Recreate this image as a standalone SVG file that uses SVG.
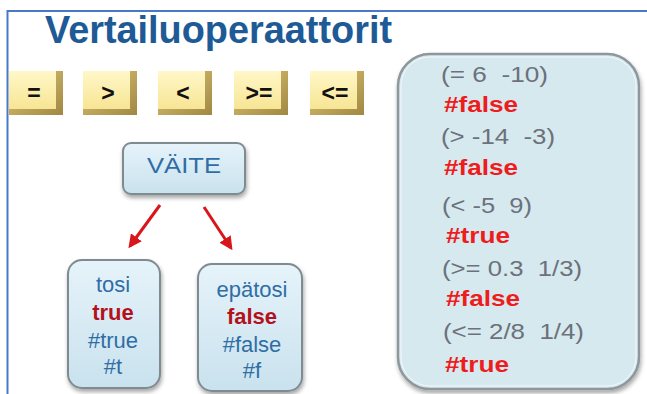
<svg xmlns="http://www.w3.org/2000/svg" width="647" height="394" viewBox="0 0 647 394">
<defs>
<linearGradient id="keyFace" x1="0" y1="0" x2="0" y2="1">
<stop offset="0" stop-color="#FFF7C8"/>
<stop offset="1" stop-color="#F7E594"/>
</linearGradient>
<linearGradient id="keyShade" x1="0" y1="0" x2="1" y2="1">
<stop offset="0" stop-color="#E0C676"/>
<stop offset="1" stop-color="#A08844"/>
</linearGradient>
<linearGradient id="nodeFill" x1="0" y1="0" x2="0" y2="1">
<stop offset="0" stop-color="#E6F3FA"/>
<stop offset="1" stop-color="#C9E2EE"/>
</linearGradient>
<filter id="sh" x="-20%" y="-20%" width="140%" height="140%">
<feDropShadow dx="1" dy="3" stdDeviation="2" flood-color="#000" flood-opacity="0.35"/>
</filter>
<marker id="ah" viewBox="0 0 10 10" refX="8" refY="5" markerWidth="4.5" markerHeight="4.5" orient="auto">
<path d="M0,0 L10,5 L0,10 Z" fill="#D8161C"/>
</marker>
<style>
.key text{font-family:"Liberation Sans",Arial,sans-serif;font-weight:bold;font-size:23px;fill:#111;text-anchor:middle}
.node rect{fill:url(#nodeFill);stroke:#7E8C92;stroke-width:2}
.nt{font-family:"Liberation Sans",Arial,sans-serif;font-size:22px;fill:#2F6EA5;text-anchor:middle}
.nr{font-family:"Liberation Sans",Arial,sans-serif;font-size:22px;font-weight:bold;fill:#B3121C;text-anchor:middle}
.pg{font-family:"Liberation Sans",Arial,sans-serif;font-size:22px;fill:#6C717B}
.pr{font-family:"Liberation Sans",Arial,sans-serif;font-size:22px;font-weight:bold;fill:#EE1C1C}
.conn line{stroke:#D8161C;stroke-width:3;marker-end:url(#ah)}
</style>
</defs>
<rect x="0" y="0" width="647" height="394" fill="#FFFFFF"/>
<path d="M7.5,394 L7.5,11 L647,11" fill="none" stroke="#4A78C8" stroke-width="2"/>
<text x="45" y="43" font-family="'Liberation Sans',Arial,sans-serif" font-weight="bold" font-size="38" fill="#1E5A96" textLength="347" lengthAdjust="spacingAndGlyphs">Vertailuoperaattorit</text>

<g id="key-eq" class="key">
<rect x="9" y="71" width="54" height="44" fill="url(#keyShade)"/>
<rect x="9" y="71" width="47" height="38" fill="url(#keyFace)"/>
<text x="34" y="101">=</text>
</g>
<g id="key-gt" class="key">
<rect x="83" y="71" width="54" height="44" fill="url(#keyShade)"/>
<rect x="83" y="71" width="47" height="38" fill="url(#keyFace)"/>
<text x="108" y="101">&gt;</text>
</g>
<g id="key-lt" class="key">
<rect x="158" y="71" width="54" height="44" fill="url(#keyShade)"/>
<rect x="158" y="71" width="47" height="38" fill="url(#keyFace)"/>
<text x="183" y="101">&lt;</text>
</g>
<g id="key-ge" class="key">
<rect x="234" y="71" width="54" height="44" fill="url(#keyShade)"/>
<rect x="234" y="71" width="47" height="38" fill="url(#keyFace)"/>
<text x="259" y="101">&gt;=</text>
</g>
<g id="key-le" class="key">
<rect x="310" y="71" width="54" height="44" fill="url(#keyShade)"/>
<rect x="310" y="71" width="47" height="38" fill="url(#keyFace)"/>
<text x="335" y="101">&lt;=</text>
</g>

<g id="panel">
<rect x="398" y="54" width="241" height="335" rx="32" fill="#D6E9EF" stroke="#8E979B" stroke-width="2.5" filter="url(#sh)"/>
<rect x="401" y="57" width="235" height="329" rx="29" fill="none" stroke="#F2F8FA" stroke-width="1"/>
<text class="pg" x="441" y="82" textLength="107" lengthAdjust="spacingAndGlyphs" xml:space="preserve">(= 6  -10)</text>
<text class="pr" x="444" y="112" textLength="74" lengthAdjust="spacingAndGlyphs">#false</text>
<text class="pg" x="441" y="144" textLength="114" lengthAdjust="spacingAndGlyphs" xml:space="preserve">(&gt; -14  -3)</text>
<text class="pr" x="444" y="175" textLength="74" lengthAdjust="spacingAndGlyphs">#false</text>
<text class="pg" x="442" y="213" textLength="90" lengthAdjust="spacingAndGlyphs" xml:space="preserve">(&lt; -5  9)</text>
<text class="pr" x="446" y="243" textLength="64" lengthAdjust="spacingAndGlyphs">#true</text>
<text class="pg" x="442" y="276" textLength="140" lengthAdjust="spacingAndGlyphs" xml:space="preserve">(&gt;= 0.3  1/3)</text>
<text class="pr" x="446" y="306" textLength="74" lengthAdjust="spacingAndGlyphs">#false</text>
<text class="pg" x="443" y="339" textLength="141" lengthAdjust="spacingAndGlyphs" xml:space="preserve">(&lt;= 2/8  1/4)</text>
<text class="pr" x="445" y="372" textLength="64" lengthAdjust="spacingAndGlyphs">#true</text>
</g>

<g id="vaite" class="node">
<rect x="123" y="143" width="122" height="51" rx="8" filter="url(#sh)"/>
<text class="nt" x="184" y="173" textLength="74" lengthAdjust="spacingAndGlyphs">VÄITE</text>
</g>
<g id="tosi" class="node">
<rect x="68" y="260" width="92" height="128" rx="14" filter="url(#sh)"/>
<text class="nt" x="113" y="292">tosi</text>
<text class="nr" x="113" y="320">true</text>
<text class="nt" x="113" y="348">#true</text>
<text class="nt" x="113" y="374">#t</text>
</g>
<g id="epatosi" class="node">
<rect x="198" y="264" width="104" height="127" rx="14" filter="url(#sh)"/>
<text class="nt" x="252" y="297">epätosi</text>
<text class="nr" x="252" y="324">false</text>
<text class="nt" x="252" y="352">#false</text>
<text class="nt" x="252" y="378">#f</text>
</g>

<g id="connectors" class="conn">
<line x1="160" y1="205" x2="130" y2="246"/>
<line x1="204" y1="207" x2="231" y2="248"/>
</g>
</svg>
